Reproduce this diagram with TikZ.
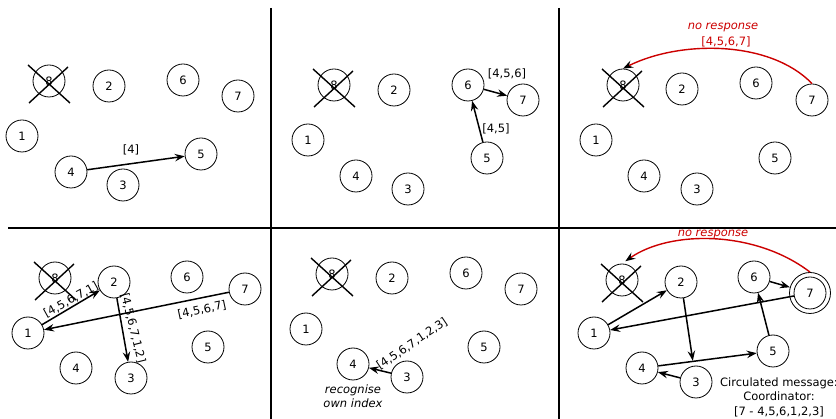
\documentclass[tikz,border=0pt]{standalone}
\usepackage{fontspec}
\setmainfont{DejaVu Sans}
\usetikzlibrary{arrows.meta}
\definecolor{resp}{RGB}{204,0,0}
\begin{document}
\begin{tikzpicture}[x=1pt,y=-1pt,
  nd/.style={circle,draw,line width=0.8pt,minimum size=32pt,inner sep=0pt,font=\fontsize{11.5}{13}\selectfont},
  lbl/.style={font=\fontsize{11.5}{13}\selectfont,inner sep=1pt},
  msg/.style={-{Stealth[length=10pt,width=7.5pt,inset=3.5pt]},line width=1.5pt},
  crs/.style={line width=1.4pt},
  divider/.style={line width=2pt},
  nores/.style={resp,line width=1.4pt,-{Stealth[length=10pt,width=7.5pt,inset=3.5pt,color=black]}},
  redtxt/.style={lbl,text=resp,font=\fontsize{11.5}{13}\selectfont\itshape}
]
\useasboundingbox (0,0) rectangle (836,419);
% dividers
\coordinate (v1t) at (271,8); \coordinate (v1b) at (271,419);
\coordinate (v2t) at (559,8); \coordinate (v2b) at (559,419);
\coordinate (hl) at (8,228.5); \coordinate (hr) at (836,228.5);
\draw[divider] (v1t) -- (v1b);
\draw[divider] (v2t) -- (v2b);
\draw[divider] (hl) -- (hr);

% ---------- panel A ----------
\node[nd] (a8) at (49,81) {8};
\node[nd] (a2) at (109,86) {2};
\node[nd] (a6) at (183,80) {6};
\node[nd] (a7) at (238,96) {7};
\node[nd] (a1) at (22,136) {1};
\node[nd] (a4) at (71,172) {4};
\node[nd] (a3) at (123,185) {3};
\node[nd] (a5) at (201,154) {5};
\draw[crs] (a8) ++(-21,-16) -- ++(42,38);
\draw[crs] (a8) ++(-20,22) -- ++(39,-36);
\draw[msg] (a4) -- (a5);
\node[lbl] (la) at (131,150) {[4]};

% ---------- panel B ----------
\node[nd] (b8) at (334,85) {8};
\node[nd] (b2) at (394,90) {2};
\node[nd] (b6) at (468,85) {6};
\node[nd] (b7) at (523,100) {7};
\node[nd] (b1) at (308,140) {1};
\node[nd] (b4) at (356,176) {4};
\node[nd] (b3) at (408,189) {3};
\node[nd] (b5) at (487,158) {5};
\draw[crs] (b8) ++(-21,-16) -- ++(42,38);
\draw[crs] (b8) ++(-20,22) -- ++(39,-36);
\draw[msg] (b6) -- (b7);
\draw[msg] (b5) -- (b6);
\node[lbl] (lb1) at (507,74) {[4,5,6]};
\node[lbl] (lb2) at (496,129) {[4,5]};

% ---------- panel C ----------
\node[nd] (c8) at (623,85) {8};
\node[nd] (c2) at (682,89) {2};
\node[nd] (c6) at (756,83) {6};
\node[nd] (c7) at (812,100) {7};
\node[nd] (c1) at (596,140) {1};
\node[nd] (c4) at (644,176) {4};
\node[nd] (c3) at (697,189) {3};
\node[nd] (c5) at (775,158) {5};
\draw[crs] (c8) ++(-21,-16) -- ++(42,38);
\draw[crs] (c8) ++(-20,22) -- ++(39,-36);
\draw[nores] (c7.north) .. controls (770,40) and (680,40) .. (c8.north);
\node[redtxt] (lc1) at (723,27) {no response};
\node[lbl,text=resp] (lc2) at (726,42) {[4,5,6,7]};

% ---------- panel D ----------
\node[nd] (d8) at (55,278) {8};
\node[nd] (d2) at (114,282) {2};
\node[nd] (d6) at (187,277) {6};
\node[nd] (d7) at (245,289) {7};
\node[nd] (d1) at (28,333) {1};
\node[nd] (d4) at (76,368) {4};
\node[nd] (d3) at (131,378) {3};
\node[nd] (d5) at (208,347) {5};
\draw[crs] (d8) ++(-21,-16) -- ++(42,38);
\draw[crs] (d8) ++(-20,22) -- ++(39,-36);
\draw[msg] (d1) -- (d2);
\draw[msg] (d2) -- (d3);
\draw[msg] (d7) -- (d1);
\node[lbl,rotate=29] (ld1) at (71,300) {[4,5,6,7,1]};
\node[lbl,rotate=-76] (ld2) at (133,328) {[4,5,6,7,1,2]};
\node[lbl,rotate=12] (ld3) at (202,310) {[4,5,6,7]};

% ---------- panel E ----------
\node[nd] (e8) at (332,274) {8};
\node[nd] (e2) at (392,278) {2};
\node[nd] (e6) at (466,273) {6};
\node[nd] (e7) at (521,289) {7};
\node[nd] (e1) at (306,329) {1};
\node[nd] (e4) at (353,364) {4};
\node[nd] (e3) at (407,377) {3};
\node[nd] (e5) at (484,347) {5};
\draw[crs] (e8) ++(-21,-16) -- ++(42,38);
\draw[crs] (e8) ++(-20,22) -- ++(39,-36);
\draw[msg] (e3) -- (e4);
\node[lbl,rotate=34] (le1) at (412,344) {[4,5,6,7,1,2,3]};
\node[lbl,align=center,font=\fontsize{11.5}{14}\selectfont\itshape] (le2) at (353,396) {recognise\\own index};

% ---------- panel F ----------
\node[nd] (f8) at (622,280) {8};
\node[nd] (f2) at (681,282) {2};
\node[nd] (f6) at (754,277) {6};
\node[nd,minimum size=41pt] (f7o) at (810,293) {};
\node[nd] (f7) at (810,293) {7};
\node[nd] (f1) at (594,333) {1};
\node[nd] (f4) at (642,368) {4};
\node[nd] (f3) at (696,382) {3};
\node[nd] (f5) at (773,351) {5};
\draw[crs] (f8) ++(-21,-16) -- ++(42,38);
\draw[crs] (f8) ++(-20,22) -- ++(39,-36);
\draw[msg] (f1) -- (f2);
\draw[msg,shorten >=5pt] (f2) -- (f3);
\draw[msg] (f3) -- (f4);
\draw[msg] (f4) -- (f5);
\draw[msg] (f5) -- (f6);
\draw[msg] (f6) -- (f7o);
\draw[msg] (f7) -- (f1);
\draw[nores,shorten >=4pt] (f7o.north) .. controls (755,230) and (670,230) .. (f8.north);
\node[redtxt] (lf1) at (713,234) {no response};
\node[lbl,align=center,font=\fontsize{11.5}{14.5}\selectfont] (lf2) at (779,397) {Circulated message:\\Coordinator:\\{[7 - 4,5,6,1,2,3]}};
\end{tikzpicture}
\end{document}
